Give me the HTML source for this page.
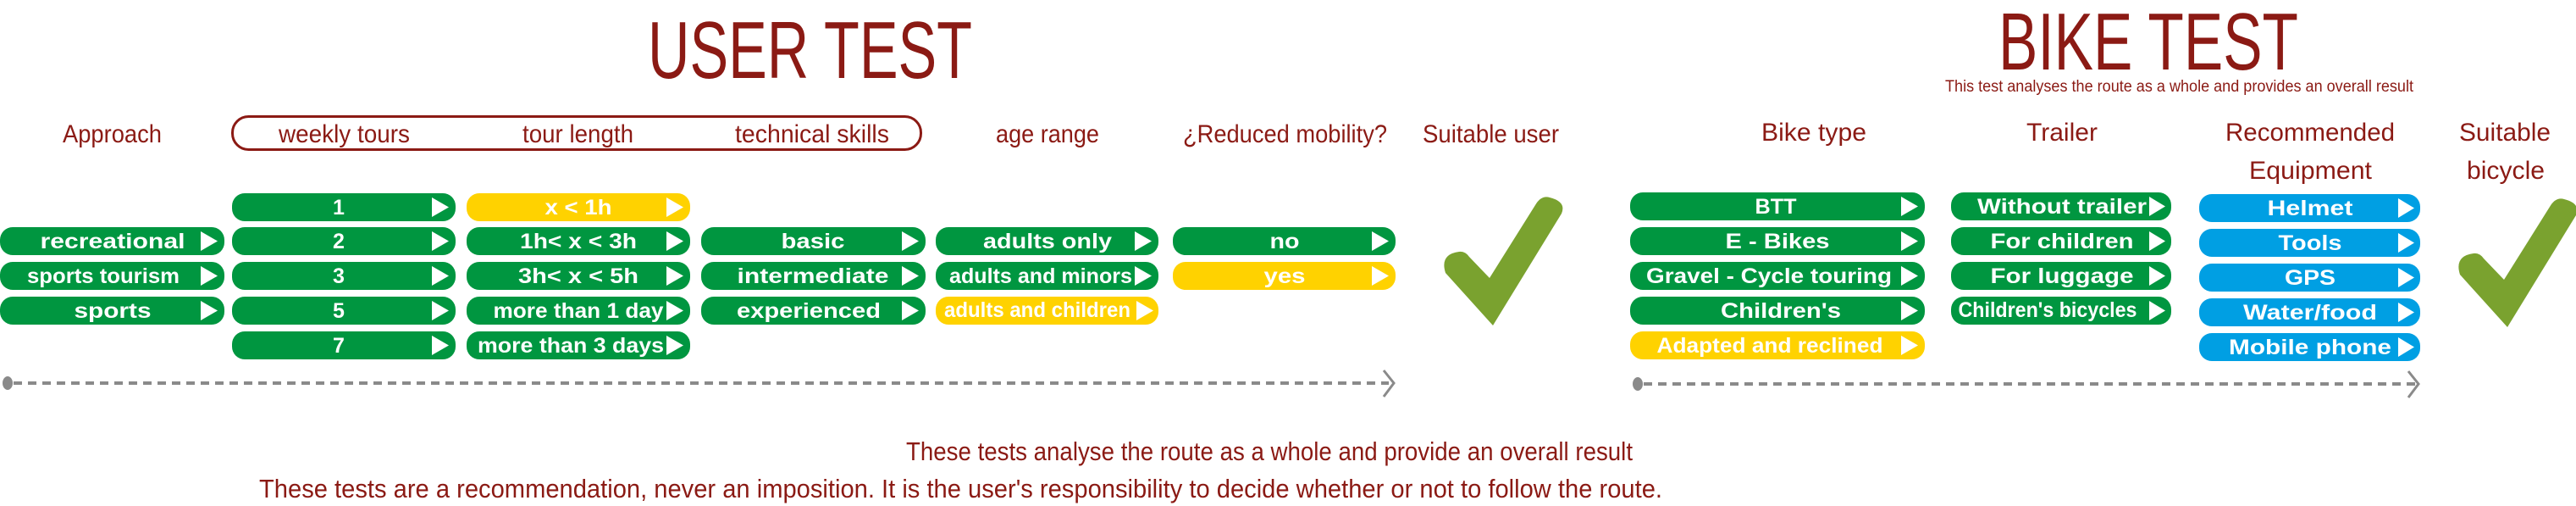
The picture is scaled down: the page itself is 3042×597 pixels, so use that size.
<!DOCTYPE html>
<html><head><meta charset="utf-8"><style>
html,body{margin:0;padding:0;background:#fff;}
svg{display:block;}
.h{font-family:"Liberation Sans Narrow","Liberation Sans",sans-serif;fill:#8b1a14;}
.p{font-family:"Liberation Sans",sans-serif;font-weight:bold;fill:#fff;font-size:25px;text-anchor:middle;}
</style></head><body>
<svg width="3042" height="597" viewBox="0 0 3042 597" xmlns="http://www.w3.org/2000/svg">
<defs>
<path id="chk" d="M1707,322 Q1700,300 1723,297 Q1730,296 1735,303 L1759,328 L1813,242 Q1820,230 1830,233 Q1850,238 1844,252 L1763,384 Z" fill="#7aa22f"/>
</defs>
<text class="h" x="765" y="92" font-size="96" textLength="383" lengthAdjust="spacingAndGlyphs">USER TEST</text>
<text class="h" x="2360" y="82" font-size="96" textLength="354" lengthAdjust="spacingAndGlyphs">BIKE TEST</text>
<text class="h" x="2297" y="108" font-size="19" textLength="553" lengthAdjust="spacingAndGlyphs">This test analyses the route as a whole and provides an overall result</text>

<rect x="274.5" y="137.5" width="813" height="39" rx="19" fill="none" stroke="#8b1a14" stroke-width="3"/>
<g font-size="30">
<text class="h" x="74" y="168" textLength="117" lengthAdjust="spacingAndGlyphs">Approach</text>
<text class="h" x="329" y="168" textLength="155" lengthAdjust="spacingAndGlyphs">weekly tours</text>
<text class="h" x="617" y="168" textLength="131" lengthAdjust="spacingAndGlyphs">tour length</text>
<text class="h" x="868" y="168" textLength="182" lengthAdjust="spacingAndGlyphs">technical skills</text>
<text class="h" x="1176" y="168" textLength="122" lengthAdjust="spacingAndGlyphs">age range</text>
<text class="h" x="1397" y="168" textLength="241" lengthAdjust="spacingAndGlyphs">¿Reduced mobility?</text>
<text class="h" x="1680" y="168" textLength="161" lengthAdjust="spacingAndGlyphs">Suitable user</text>
<text class="h" x="2080" y="166" textLength="124" lengthAdjust="spacingAndGlyphs">Bike type</text>
<text class="h" x="2393" y="166" textLength="84" lengthAdjust="spacingAndGlyphs">Trailer</text>
<text class="h" x="2628" y="166" textLength="200" lengthAdjust="spacingAndGlyphs">Recommended</text>
<text class="h" x="2656" y="211" textLength="145" lengthAdjust="spacingAndGlyphs">Equipment</text>
<text class="h" x="2904" y="166" textLength="108" lengthAdjust="spacingAndGlyphs">Suitable</text>
<text class="h" x="2913" y="211" textLength="92" lengthAdjust="spacingAndGlyphs">bicycle</text>
</g>

<g>
<rect x="0" y="268" width="265" height="33" rx="15" fill="#009640"/><polygon points="237,273 257,284.5 237,296" fill="#fff"/><text class="p" x="133" y="293" textLength="171" lengthAdjust="spacingAndGlyphs">recreational</text>
<rect x="0" y="309" width="265" height="33" rx="15" fill="#009640"/><polygon points="237,314 257,325.5 237,337" fill="#fff"/><text class="p" x="122" y="334" textLength="180" lengthAdjust="spacingAndGlyphs">sports tourism</text>
<rect x="0" y="350" width="265" height="33" rx="15" fill="#009640"/><polygon points="237,355 257,366.5 237,378" fill="#fff"/><text class="p" x="133" y="375" textLength="91" lengthAdjust="spacingAndGlyphs">sports</text>

<rect x="274" y="228" width="264" height="33" rx="15" fill="#009640"/><polygon points="510,233 530,244.5 510,256" fill="#fff"/><text class="p" x="400" y="253">1</text>
<rect x="274" y="268" width="264" height="33" rx="15" fill="#009640"/><polygon points="510,273 530,284.5 510,296" fill="#fff"/><text class="p" x="400" y="293">2</text>
<rect x="274" y="309" width="264" height="33" rx="15" fill="#009640"/><polygon points="510,314 530,325.5 510,337" fill="#fff"/><text class="p" x="400" y="334">3</text>
<rect x="274" y="350" width="264" height="33" rx="15" fill="#009640"/><polygon points="510,355 530,366.5 510,378" fill="#fff"/><text class="p" x="400" y="375">5</text>
<rect x="274" y="391" width="264" height="33" rx="15" fill="#009640"/><polygon points="510,396 530,407.5 510,419" fill="#fff"/><text class="p" x="400" y="416">7</text>

<rect x="551" y="228" width="264" height="33" rx="15" fill="#ffd200"/><polygon points="787,233 807,244.5 787,256" fill="#fff"/><text class="p" x="683" y="253" textLength="79" lengthAdjust="spacingAndGlyphs">x &lt; 1h</text>
<rect x="551" y="268" width="264" height="33" rx="15" fill="#009640"/><polygon points="787,273 807,284.5 787,296" fill="#fff"/><text class="p" x="683" y="293" textLength="138" lengthAdjust="spacingAndGlyphs">1h&lt; x &lt; 3h</text>
<rect x="551" y="309" width="264" height="33" rx="15" fill="#009640"/><polygon points="787,314 807,325.5 787,337" fill="#fff"/><text class="p" x="683" y="334" textLength="142" lengthAdjust="spacingAndGlyphs">3h&lt; x &lt; 5h</text>
<rect x="551" y="350" width="264" height="33" rx="15" fill="#009640"/><polygon points="787,355 807,366.5 787,378" fill="#fff"/><text class="p" x="683" y="375" textLength="201" lengthAdjust="spacingAndGlyphs">more than 1 day</text>
<rect x="551" y="391" width="264" height="33" rx="15" fill="#009640"/><polygon points="787,396 807,407.5 787,419" fill="#fff"/><text class="p" x="674" y="416" textLength="220" lengthAdjust="spacingAndGlyphs">more than 3 days</text>

<rect x="828" y="268" width="265" height="33" rx="15" fill="#009640"/><polygon points="1065,273 1085,284.5 1065,296" fill="#fff"/><text class="p" x="960" y="293" textLength="75" lengthAdjust="spacingAndGlyphs">basic</text>
<rect x="828" y="309" width="265" height="33" rx="15" fill="#009640"/><polygon points="1065,314 1085,325.5 1065,337" fill="#fff"/><text class="p" x="960" y="334" textLength="179" lengthAdjust="spacingAndGlyphs">intermediate</text>
<rect x="828" y="350" width="265" height="33" rx="15" fill="#009640"/><polygon points="1065,355 1085,366.5 1065,378" fill="#fff"/><text class="p" x="955" y="375" textLength="170" lengthAdjust="spacingAndGlyphs">experienced</text>

<rect x="1105" y="268" width="263" height="33" rx="15" fill="#009640"/><polygon points="1340,273 1360,284.5 1340,296" fill="#fff"/><text class="p" x="1237" y="293" textLength="152" lengthAdjust="spacingAndGlyphs">adults only</text>
<rect x="1105" y="309" width="263" height="33" rx="15" fill="#009640"/><polygon points="1340,314 1360,325.5 1340,337" fill="#fff"/><text class="p" x="1229" y="334" textLength="216" lengthAdjust="spacingAndGlyphs">adults and minors</text>
<rect x="1105" y="350" width="263" height="33" rx="15" fill="#ffd200"/><polygon points="1342,355 1362,366.5 1342,378" fill="#fff"/><text class="p" x="1225" y="374" font-size="22" textLength="220" lengthAdjust="spacingAndGlyphs">adults and children</text>

<rect x="1385" y="268" width="263" height="33" rx="15" fill="#009640"/><polygon points="1620,273 1640,284.5 1620,296" fill="#fff"/><text class="p" x="1517" y="293" textLength="35" lengthAdjust="spacingAndGlyphs">no</text>
<rect x="1385" y="309" width="263" height="33" rx="15" fill="#ffd200"/><polygon points="1620,314 1640,325.5 1620,337" fill="#fff"/><text class="p" x="1517" y="334" textLength="49" lengthAdjust="spacingAndGlyphs">yes</text>

<rect x="1925" y="227" width="348" height="33" rx="15" fill="#009640"/><polygon points="2245,232 2265,243.5 2245,255" fill="#fff"/><text class="p" x="2097" y="252" textLength="49" lengthAdjust="spacingAndGlyphs">BTT</text>
<rect x="1925" y="268" width="348" height="33" rx="15" fill="#009640"/><polygon points="2245,273 2265,284.5 2245,296" fill="#fff"/><text class="p" x="2099" y="293" textLength="123" lengthAdjust="spacingAndGlyphs">E - Bikes</text>
<rect x="1925" y="309" width="348" height="33" rx="15" fill="#009640"/><polygon points="2245,314 2265,325.5 2245,337" fill="#fff"/><text class="p" x="2089" y="334" textLength="290" lengthAdjust="spacingAndGlyphs">Gravel - Cycle touring</text>
<rect x="1925" y="350" width="348" height="33" rx="15" fill="#009640"/><polygon points="2245,355 2265,366.5 2245,378" fill="#fff"/><text class="p" x="2103" y="375" textLength="142" lengthAdjust="spacingAndGlyphs">Children's</text>
<rect x="1925" y="391" width="348" height="33" rx="15" fill="#ffd200"/><polygon points="2245,396 2265,407.5 2245,419" fill="#fff"/><text class="p" x="2090" y="416" textLength="267" lengthAdjust="spacingAndGlyphs">Adapted and reclined</text>

<rect x="2304" y="227" width="260" height="33" rx="15" fill="#009640"/><polygon points="2538,232 2557,243.5 2538,255" fill="#fff"/><text class="p" x="2435" y="252" textLength="200" lengthAdjust="spacingAndGlyphs">Without trailer</text>
<rect x="2304" y="268" width="260" height="33" rx="15" fill="#009640"/><polygon points="2538,273 2557,284.5 2538,296" fill="#fff"/><text class="p" x="2435" y="293" textLength="169" lengthAdjust="spacingAndGlyphs">For children</text>
<rect x="2304" y="309" width="260" height="33" rx="15" fill="#009640"/><polygon points="2538,314 2557,325.5 2538,337" fill="#fff"/><text class="p" x="2435" y="334" textLength="169" lengthAdjust="spacingAndGlyphs">For luggage</text>
<rect x="2304" y="350" width="260" height="33" rx="15" fill="#009640"/><polygon points="2538,355 2557,366.5 2538,378" fill="#fff"/><text class="p" x="2418" y="374" font-size="23" textLength="211" lengthAdjust="spacingAndGlyphs">Children's bicycles</text>

<rect x="2597" y="229" width="261" height="33" rx="15" fill="#009fe3"/><polygon points="2832,234 2851,245.5 2832,257" fill="#fff"/><text class="p" x="2728" y="254" textLength="101" lengthAdjust="spacingAndGlyphs">Helmet</text>
<rect x="2597" y="270" width="261" height="33" rx="15" fill="#009fe3"/><polygon points="2832,275 2851,286.5 2832,298" fill="#fff"/><text class="p" x="2728" y="295" textLength="75" lengthAdjust="spacingAndGlyphs">Tools</text>
<rect x="2597" y="311" width="261" height="33" rx="15" fill="#009fe3"/><polygon points="2832,316 2851,327.5 2832,339" fill="#fff"/><text class="p" x="2728" y="336" textLength="60" lengthAdjust="spacingAndGlyphs">GPS</text>
<rect x="2597" y="352" width="261" height="33" rx="15" fill="#009fe3"/><polygon points="2832,357 2851,368.5 2832,380" fill="#fff"/><text class="p" x="2728" y="377" textLength="158" lengthAdjust="spacingAndGlyphs">Water/food</text>
<rect x="2597" y="393" width="261" height="33" rx="15" fill="#009fe3"/><polygon points="2832,398 2851,409.5 2832,421" fill="#fff"/><text class="p" x="2728" y="418" textLength="192" lengthAdjust="spacingAndGlyphs">Mobile phone</text>
</g>

<use href="#chk"/>
<use href="#chk" transform="translate(1198,2)"/>

<g stroke="#8a8a8a" stroke-width="4" fill="none">
<line x1="16" y1="452" x2="1640" y2="452" stroke-dasharray="10,7"/>
<polyline points="1634,437 1646,452 1634,468" stroke-width="3"/>
<line x1="1941" y1="453" x2="2852" y2="453" stroke-dasharray="10,7"/>
<polyline points="2844,438 2856,453 2844,469" stroke-width="3"/>
</g>
<ellipse cx="9" cy="452" rx="6" ry="8" fill="#8a8a8a"/>
<ellipse cx="1934" cy="453" rx="6" ry="8" fill="#8a8a8a"/>

<text class="h" x="1070" y="543" font-size="31" textLength="858" lengthAdjust="spacingAndGlyphs">These tests analyse the route as a whole and provide an overall result</text>
<text class="h" x="306" y="587" font-size="31" textLength="1657" lengthAdjust="spacingAndGlyphs">These tests are a recommendation, never an imposition. It is the user's responsibility to decide whether or not to follow the route.</text>
</svg>
</body></html>
